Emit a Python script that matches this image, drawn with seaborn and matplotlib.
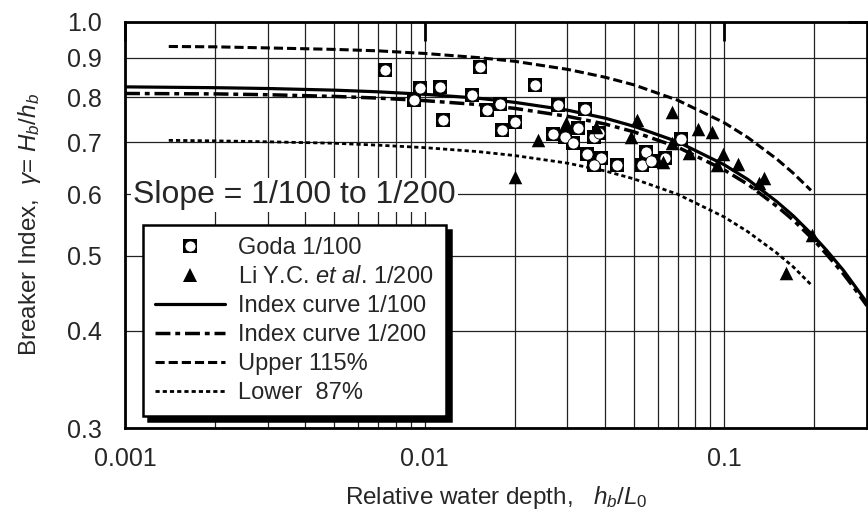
import numpy as np
import pandas as pd
import matplotlib
matplotlib.use("Agg")
import matplotlib.pyplot as plt
import seaborn as sns
from matplotlib.lines import Line2D
from matplotlib.ticker import FixedLocator, FixedFormatter, NullFormatter

# ---------------- data ----------------
goda_x = [0.00736, 0.00962, 0.00919, 0.0113, 0.0115, 0.0153, 0.0144, 0.0162, 0.0179,
          0.0181, 0.0201, 0.0234, 0.0280, 0.0269, 0.0295, 0.0326, 0.0344, 0.0314,
          0.0349, 0.0369, 0.0383, 0.0389, 0.0369, 0.0440, 0.0550, 0.0533, 0.0571,
          0.0636, 0.0719]
goda_y = [0.867, 0.822, 0.793, 0.825, 0.748, 0.875, 0.805, 0.770, 0.784,
          0.726, 0.743, 0.829, 0.782, 0.717, 0.711, 0.730, 0.772, 0.698,
          0.676, 0.711, 0.719, 0.668, 0.654, 0.654, 0.680, 0.654, 0.662,
          0.668, 0.707]

li_x = [0.0200, 0.0240, 0.0297, 0.0374, 0.0513, 0.0490, 0.0627, 0.0671, 0.0671,
        0.0764, 0.0818, 0.0912, 0.0993, 0.0948, 0.111, 0.136, 0.131, 0.196, 0.161]
li_y = [0.631, 0.705, 0.741, 0.732, 0.748, 0.711, 0.660, 0.766, 0.698,
        0.678, 0.728, 0.721, 0.676, 0.654, 0.656, 0.630, 0.620, 0.532, 0.475]

curve_x = [0.001, 0.002, 0.003, 0.005, 0.007, 0.01, 0.015, 0.02, 0.03, 0.04, 0.05,
           0.07, 0.1, 0.12, 0.15, 0.17, 0.2, 0.22, 0.25, 0.27, 0.3]
index100_y = [0.825, 0.823, 0.821, 0.817, 0.813, 0.807, 0.798, 0.788, 0.770, 0.752,
              0.734, 0.701, 0.655, 0.627, 0.587, 0.563, 0.529, 0.508, 0.479, 0.460, 0.435]
index200_y = [0.809, 0.808, 0.806, 0.802, 0.798, 0.792, 0.783, 0.774, 0.756, 0.739,
              0.722, 0.690, 0.645, 0.618, 0.579, 0.556, 0.523, 0.502, 0.474, 0.456, 0.431]

band_x = [0.0014, 0.002, 0.003, 0.005, 0.007, 0.01, 0.015, 0.02, 0.03, 0.04, 0.05,
          0.07, 0.1, 0.12, 0.15, 0.17, 0.195]
upper_y = [0.930, 0.929, 0.926, 0.922, 0.918, 0.911, 0.900, 0.890, 0.869, 0.849,
           0.830, 0.793, 0.742, 0.710, 0.666, 0.639, 0.607]
lower_y = [0.704, 0.703, 0.701, 0.698, 0.694, 0.689, 0.681, 0.673, 0.658, 0.643,
           0.628, 0.600, 0.561, 0.537, 0.504, 0.484, 0.459]

x_major = [0.001, 0.01, 0.1]
x_major_labels = ["0.001", "0.01", "0.1"]
y_minor = [0.3, 0.4, 0.5, 0.6, 0.7, 0.8, 0.9]
y_minor_labels = ["0.3", "0.4", "0.5", "0.6", "0.7", "0.8", "0.9"]
y_major = [1.0]
y_major_labels = ["1.0"]

labels = ["Goda 1/100", r"Li Y.C. $\it{et\ al}$. 1/200", "Index curve 1/100",
          "Index curve 1/200", "Upper 115%", "Lower  87%"]

# ---------------- style ----------------
sns.set_style("white")
plt.rcParams['font.family'] = ['Liberation Sans', 'DejaVu Sans']
plt.rcParams['mathtext.fontset'] = 'custom'
plt.rcParams['mathtext.rm'] = 'Liberation Sans'
plt.rcParams['mathtext.it'] = 'Liberation Sans:italic'
plt.rcParams['mathtext.bf'] = 'Liberation Sans:bold'

fig = plt.figure(figsize=(8.68, 5.19), dpi=100)
ax = fig.add_axes([125 / 868, 91 / 519, 742 / 868, 406 / 519])

curves = pd.DataFrame({"x": curve_x, "i100": index100_y, "i200": index200_y})
band = pd.DataFrame({"x": band_x, "up": upper_y, "lo": lower_y})

ls_dashdot = (0, (4.3, 1.4, 1.4, 1.4))
ls_dash = (0, (3.0, 1.3))
ls_dot = (0, (1.5, 1.1))

sns.lineplot(data=curves, x="x", y="i100", ax=ax, color="k", lw=2.3,
             linestyle="-", estimator=None, zorder=3)
sns.lineplot(data=curves, x="x", y="i200", ax=ax, color="k", lw=2.5,
             linestyle=ls_dashdot, estimator=None, zorder=3)
sns.lineplot(data=band, x="x", y="up", ax=ax, color="k", lw=2.2,
             linestyle=ls_dash, estimator=None, zorder=3)
sns.lineplot(data=band, x="x", y="lo", ax=ax, color="k", lw=2.0,
             linestyle=ls_dot, estimator=None, zorder=3)

sns.scatterplot(x=goda_x, y=goda_y, ax=ax, marker="s", s=88, color="k",
                edgecolor="k", linewidth=0, zorder=5)
sns.scatterplot(x=goda_x, y=goda_y, ax=ax, marker="o", s=64, color="white",
                edgecolor="k", linewidth=0.6, zorder=6)
sns.scatterplot(x=li_x, y=li_y, ax=ax, marker="^", s=95, color="k",
                edgecolor="k", linewidth=0, zorder=7)

ax.set_xscale("log")
ax.set_yscale("log")
ax.set_xlim(0.001, 0.3)
ax.set_ylim(0.3, 1.0)

x_minor = [k * 10.0 ** e for e in (-3, -2, -1) for k in range(2, 10) if k * 10.0 ** e <= 0.3]
ax.xaxis.set_major_locator(FixedLocator(x_major))
ax.xaxis.set_major_formatter(FixedFormatter(x_major_labels))
ax.xaxis.set_minor_locator(FixedLocator(x_minor))
ax.xaxis.set_minor_formatter(NullFormatter())
ax.yaxis.set_major_locator(FixedLocator(y_major))
ax.yaxis.set_major_formatter(FixedFormatter(y_major_labels))
ax.yaxis.set_minor_locator(FixedLocator(y_minor))
ax.yaxis.set_minor_formatter(FixedFormatter(y_minor_labels))

ax.tick_params(which="major", direction="in", length=14, width=2.0,
               top=True, right=True, labelsize=18, color="k")
ax.tick_params(which="minor", length=0, labelsize=18)
ax.tick_params(axis="x", which="both", pad=14)
ax.tick_params(axis="y", which="both", pad=17)

ax.set_axisbelow(True)
ax.grid(True, which="both", color="#222222", lw=0.9)
for sp in ax.spines.values():
    sp.set_visible(True)
    sp.set_color("k")
    sp.set_linewidth(2.0)

ax.set_xlabel(r"Relative water depth,   $h_b$/$L_\mathrm{0}$", fontsize=17.5, labelpad=9)
ax.set_ylabel(r"Breaker Index,  $\gamma$= $H_b$/$h_b$", fontsize=17.5, labelpad=17)

ax.text(0.011, 0.574, "Slope = 1/100 to 1/200", transform=ax.transAxes,
        fontsize=23, ha="left", va="center", zorder=8,
        bbox=dict(fc="white", ec="none", pad=1.5))

goda_h = (Line2D([], [], marker="s", ls="", ms=9.4, mfc="k", mec="k", mew=0),
          Line2D([], [], marker="o", ls="", ms=8, mfc="w", mec="k", mew=0.6))
li_h = Line2D([], [], marker="^", ls="", ms=9.5, mfc="k", mec="k", mew=0)
h100 = Line2D([], [], color="k", lw=2.3, ls="-")
h200 = Line2D([], [], color="k", lw=2.5, ls=ls_dashdot)
hup = Line2D([], [], color="k", lw=2.2, ls=ls_dash)
hlo = Line2D([], [], color="k", lw=2.0, ls=ls_dot)

leg = ax.legend([goda_h, li_h, h100, h200, hup, hlo], labels,
                loc="upper left", bbox_to_anchor=(0.024, 0.5), borderaxespad=0,
                frameon=True, fancybox=False, edgecolor="k", framealpha=1,
                shadow={"color": "k", "alpha": 1, "ox": 3.5, "oy": -3.5},
                prop={"size": 17}, handlelength=3.0, handletextpad=0.55,
                labelspacing=0.3, borderpad=0.5)
leg.get_frame().set_linewidth(1.8)
leg.set_zorder(10)

fig.savefig("out.png", dpi=100)
